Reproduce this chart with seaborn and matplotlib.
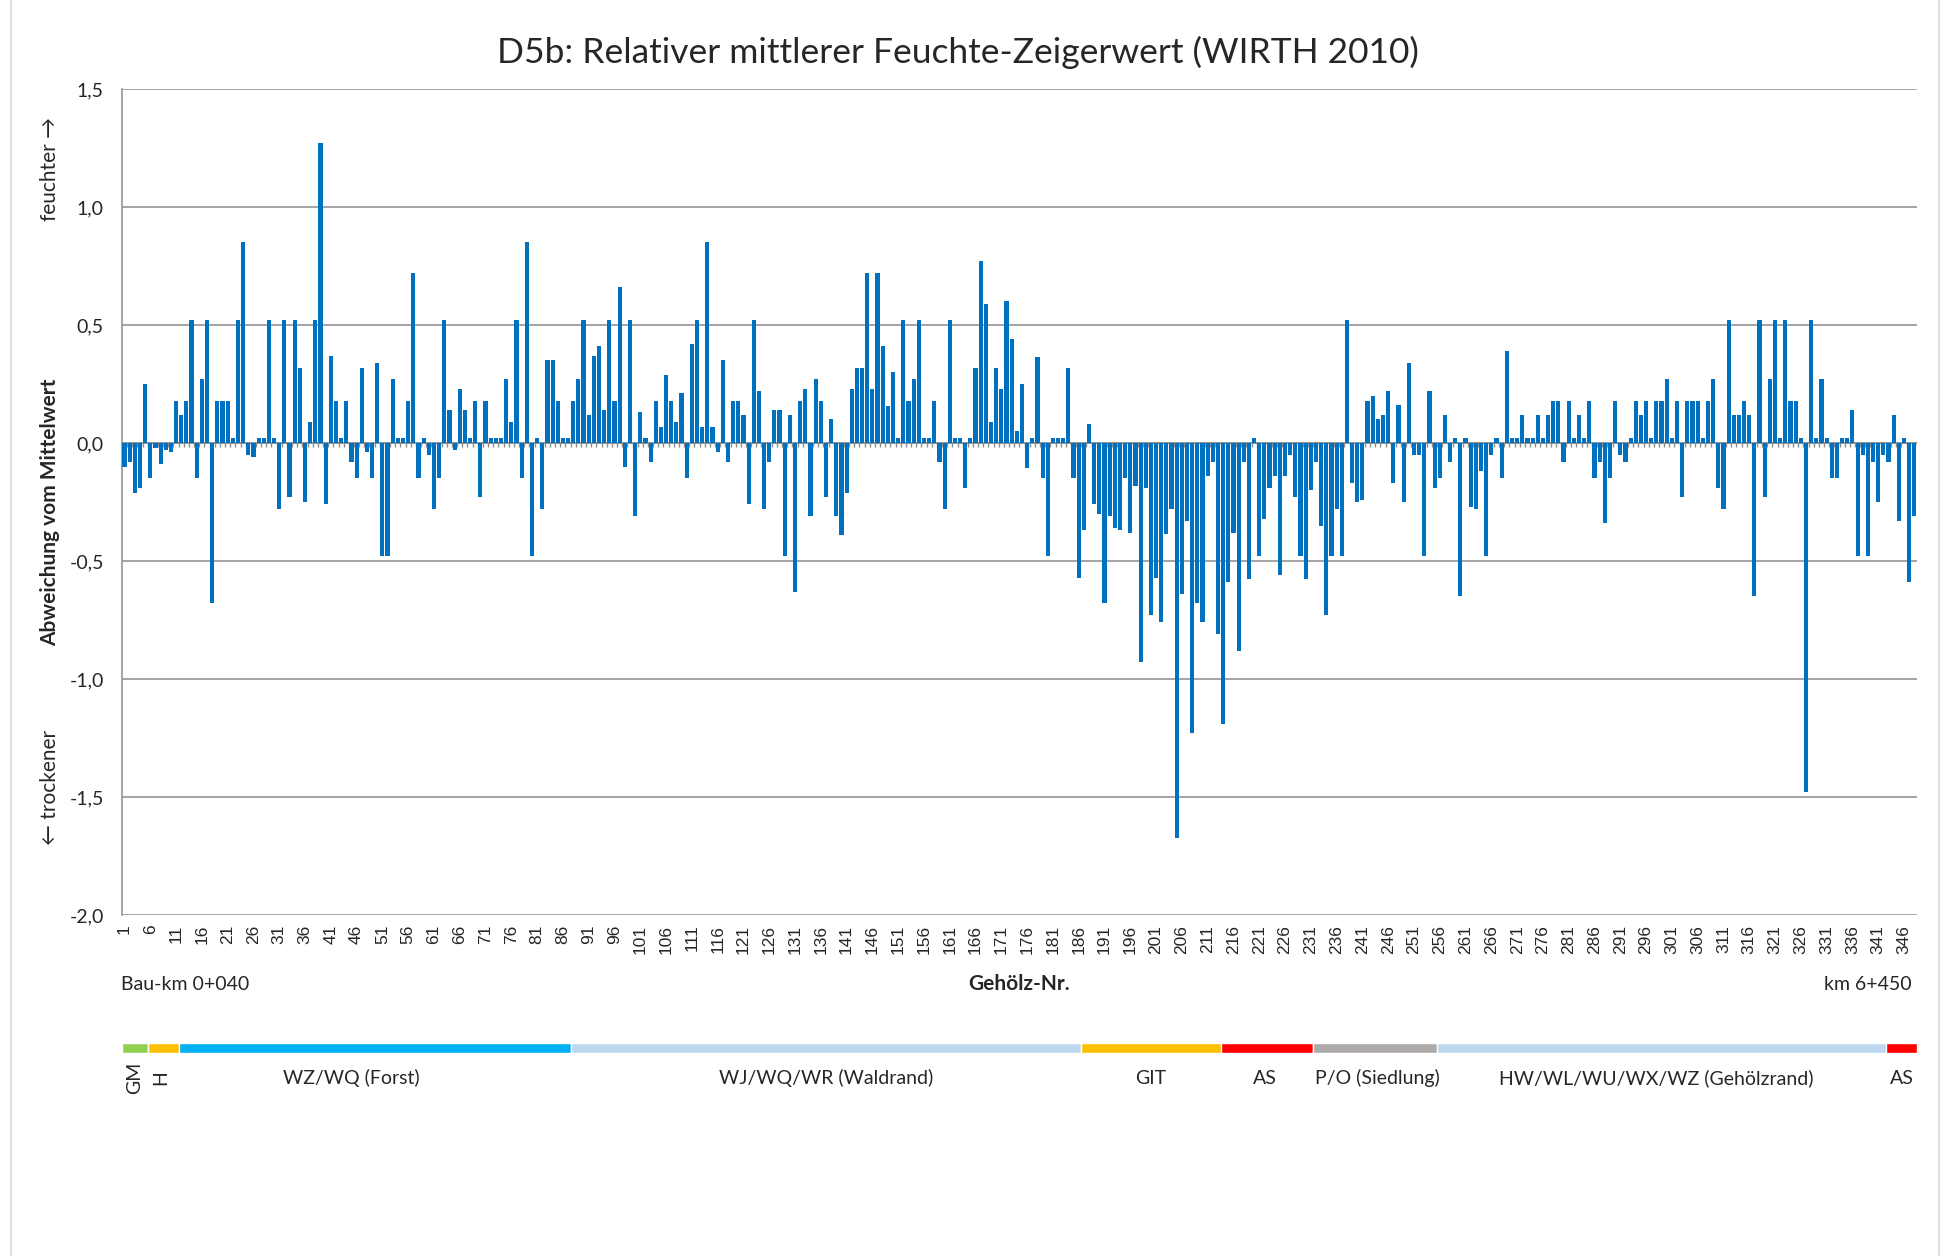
import numpy as np
import matplotlib
matplotlib.use("Agg")
import matplotlib.pyplot as plt
import matplotlib.transforms as mtransforms
from matplotlib.lines import Line2D
import seaborn as sns

# Abweichung vom Mittelwert je Gehölz (Nr. 1..348)
abweichung = [
    -0.10, -0.08, -0.21, -0.19, 0.25, -0.15, -0.02, -0.09, -0.03, -0.04,
    0.18, 0.12, 0.18, 0.52, -0.15, 0.27, 0.52, -0.68, 0.18, 0.18,
    0.18, 0.02, 0.52, 0.85, -0.05, -0.06, 0.02, 0.02, 0.52, 0.02,
    -0.28, 0.52, -0.23, 0.52, 0.32, -0.25, 0.09, 0.52, 1.27, -0.26,
    0.37, 0.18, 0.02, 0.18, -0.08, -0.15, 0.32, -0.04, -0.15, 0.34,
    -0.48, -0.48, 0.27, 0.02, 0.02, 0.18, 0.72, -0.15, 0.02, -0.05,
    -0.28, -0.15, 0.52, 0.14, -0.03, 0.23, 0.14, 0.02, 0.18, -0.23,
    0.18, 0.02, 0.02, 0.02, 0.27, 0.09, 0.52, -0.15, 0.85, -0.48,
    0.02, -0.28, 0.35, 0.35, 0.18, 0.02, 0.02, 0.18, 0.27, 0.52,
    0.12, 0.37, 0.41, 0.14, 0.52, 0.18, 0.66, -0.10, 0.52, -0.31,
    0.13, 0.02, -0.08, 0.18, 0.07, 0.29, 0.18, 0.09, 0.21, -0.15,
    0.42, 0.52, 0.07, 0.85, 0.07, -0.04, 0.35, -0.08, 0.18, 0.18,
    0.12, -0.26, 0.52, 0.22, -0.28, -0.08, 0.14, 0.14, -0.48, 0.12,
    -0.63, 0.18, 0.23, -0.31, 0.27, 0.18, -0.23, 0.10, -0.31, -0.39,
    -0.21, 0.23, 0.32, 0.32, 0.72, 0.23, 0.72, 0.41, 0.155, 0.30,
    0.02, 0.52, 0.18, 0.27, 0.52, 0.02, 0.02, 0.18, -0.08, -0.28,
    0.52, 0.02, 0.02, -0.19, 0.02, 0.32, 0.77, 0.59, 0.09, 0.32,
    0.23, 0.60, 0.44, 0.05, 0.25, -0.105, 0.02, 0.365, -0.15, -0.48,
    0.02, 0.02, 0.02, 0.32, -0.15, -0.57, -0.37, 0.08, -0.26, -0.30,
    -0.68, -0.31, -0.36, -0.37, -0.15, -0.38, -0.18, -0.93, -0.19, -0.73,
    -0.57, -0.76, -0.385, -0.28, -1.675, -0.64, -0.33, -1.23, -0.68, -0.76,
    -0.14, -0.08, -0.81, -1.19, -0.59, -0.38, -0.88, -0.08, -0.575, 0.02,
    -0.48, -0.32, -0.19, -0.14, -0.56, -0.14, -0.05, -0.23, -0.48, -0.575,
    -0.20, -0.08, -0.35, -0.73, -0.48, -0.28, -0.48, 0.52, -0.17, -0.25,
    -0.24, 0.18, 0.20, 0.10, 0.12, 0.22, -0.17, 0.16, -0.25, 0.34,
    -0.05, -0.05, -0.48, 0.22, -0.19, -0.15, 0.12, -0.08, 0.02, -0.65,
    0.02, -0.27, -0.28, -0.12, -0.48, -0.05, 0.02, -0.15, 0.39, 0.02,
    0.02, 0.12, 0.02, 0.02, 0.12, 0.02, 0.12, 0.18, 0.18, -0.08,
    0.18, 0.02, 0.12, 0.02, 0.18, -0.15, -0.08, -0.34, -0.15, 0.18,
    -0.05, -0.08, 0.02, 0.18, 0.12, 0.18, 0.02, 0.18, 0.18, 0.27,
    0.02, 0.18, -0.23, 0.18, 0.18, 0.18, 0.02, 0.18, 0.27, -0.19,
    -0.28, 0.52, 0.12, 0.12, 0.18, 0.12, -0.65, 0.52, -0.23, 0.27,
    0.52, 0.02, 0.52, 0.18, 0.18, 0.02, -1.48, 0.52, 0.02, 0.27,
    0.02, -0.15, -0.15, 0.02, 0.02, 0.14, -0.48, -0.05, -0.48, -0.08,
    -0.25, -0.05, -0.08, 0.12, -0.33, 0.02, -0.59, -0.31,
]
gehoelz_nr = list(range(1, len(abweichung) + 1))

y_ticks = [1.5, 1.0, 0.5, 0.0, -0.5, -1.0, -1.5, -2.0]
y_ticklabels = ["1,5", "1,0", "0,5", "0,0", "-0,5", "-1,0", "-1,5", "-2,0"]

# Biotoptypen-Abschnitte unter der Achse
seg_labels = ["GM", "H", "WZ/WQ (Forst)", "WJ/WQ/WR (Waldrand)", "GIT", "AS",
              "P/O (Siedlung)", "HW/WL/WU/WX/WZ (Gehölzrand)", "AS"]
seg_first = [1, 6, 12, 88, 187, 214, 232, 256, 343]
seg_last = [5, 11, 87, 186, 213, 231, 255, 342, 348]
seg_label_at = [3, 8, 45, 137, 200, 222, 244, 298, 345.5]
seg_label_rot = [90, 90, 0, 0, 0, 0, 0, 0, 0]
seg_colors = ["#92D050", "#FFC000", "#00B0F0", "#BDD7EE", "#FFC000", "#FF0000",
              "#AEAAAA", "#BDD7EE", "#FF0000"]

sns.set_style("white")
plt.rcParams["font.family"] = ["Lato", "DejaVu Sans"]
grid_col = "#8c8c8c"

fig = plt.figure(figsize=(19.6, 12.56), dpi=100)
ax = fig.add_axes([0.0622, 0.2715, 0.9158, 0.6576])

sns.barplot(x=gehoelz_nr, y=abweichung, color="#0070C0", saturation=1,
            width=0.8, errorbar=None, linewidth=0, edgecolor="none", ax=ax, zorder=3)

n = len(abweichung)
ax.set_ylim(-2.0, 1.5)
ax.set_xlim(-0.5, n - 0.5)
ax.set_yticks(y_ticks)
ax.set_yticklabels(y_ticklabels, fontsize=14)
ax.set_xticks(range(0, n, 5))
ax.set_xticklabels([str(g) for g in gehoelz_nr[::5]], rotation=90, fontsize=12.5,
                   family=["Liberation Sans", "DejaVu Sans"])
ax.tick_params(axis="y", length=0, pad=13)
ax.tick_params(axis="x", length=0, pad=7)
ax.set_xlabel("")
ax.set_ylabel("")
for g in y_ticks:
    ax.axhline(g, color=grid_col, lw=1.1, zorder=1)
for s in ["top", "right", "bottom"]:
    ax.spines[s].set_visible(False)
ax.spines["left"].set_color(grid_col)
ax.spines["left"].set_linewidth(1.1)

# Rubrikenachse bei 0 mit Teilstrichen
ax.axhline(0, color=grid_col, lw=1.1, zorder=2)
ax.vlines(np.arange(n + 1) - 0.5, -0.018, 0, color=grid_col, lw=1, zorder=2)

fig.text(958 / 1960, 1 - 52 / 1256, "D5b: Relativer mittlerer Feuchte-Zeigerwert (WIRTH 2010)",
         ha="center", va="center", fontsize=25.5)

fig.text(50 / 1960, 1 - 512 / 1256, "Abweichung vom Mittelwert", rotation=90,
         ha="center", va="center", fontsize=15, fontweight="bold")
fig.text(50 / 1960, 1 - 169 / 1256, "feuchter \u2192", rotation=90,
         ha="center", va="center", fontsize=15)
fig.text(50 / 1960, 1 - 787 / 1256, "\u2190 trockener", rotation=90,
         ha="center", va="center", fontsize=15)

fig.text(121 / 1960, 1 - 984 / 1256, "Bau-km 0+040", ha="left", va="center", fontsize=14)
fig.text(1019 / 1960, 1 - 984 / 1256, "Gehölz-Nr.", ha="center", va="center",
         fontsize=15, fontweight="bold")
fig.text(1912 / 1960, 1 - 984 / 1256, "km 6+450", ha="right", va="center", fontsize=14)

# Farbband der Abschnitte
ax2 = fig.add_axes([0.0622, 1 - 1053 / 1256, 0.9158, 10 / 1256])
ax2.broken_barh([(f - 1.5, l - f + 1) for f, l in zip(seg_first, seg_last)], (0, 1),
                facecolors=seg_colors)
ax2.set_xlim(-0.5, n - 0.5)
ax2.set_ylim(0, 1)
ax2.axis("off")
trans = mtransforms.blended_transform_factory(ax2.transData, fig.transFigure)
for lab, pos, rot in zip(seg_labels, seg_label_at, seg_label_rot):
    ax2.text(pos - 1, 1 - 1078 / 1256, lab, transform=trans, ha="center", va="center",
             fontsize=14, rotation=rot)

for xf in [11 / 1960, 1939 / 1960]:
    fig.add_artist(Line2D([xf, xf], [0, 1], color="#d9d9d9", lw=1.2))

fig.savefig("out.png", dpi=100, facecolor="white")
